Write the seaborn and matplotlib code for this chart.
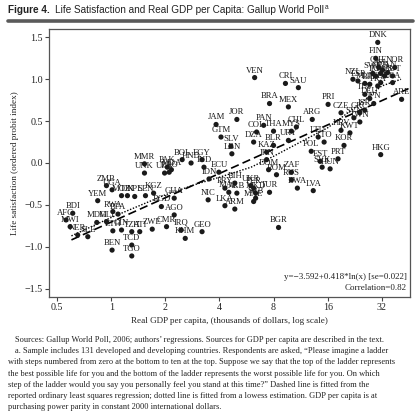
import matplotlib
matplotlib.use("Agg")
import matplotlib.pyplot as plt
import seaborn as sns
import pandas as pd
import numpy as np
from matplotlib.lines import Line2D

# country codes, real GDP per capita (thousands, PPP) and life satisfaction (ordered probit index)
countries = [
    "AFG", "BDI", "MWI", "NER", "SLE", "MDG", "MLI", "RWA", "BFA", "ETH",
    "GIN", "TZA", "HTI", "TCD", "BEN", "TGO", "ZWE", "CMR", "YEM", "ZMB",
    "UGA", "MOZ", "TJK", "NPL", "SEN", "KGZ", "MMR", "UNK", "UZB", "LAO",
    "PAK", "MDA", "BOL", "HND", "EGY", "IND", "ECU", "IDN", "GHA", "AGO",
    "BGD", "GEO", "IRQ", "KHM", "NIC", "LKA", "ARM", "BIH", "PRY", "MAR",
    "ALB", "PER", "MKD", "SRB", "UKR", "MNE", "TUR", "JAM", "JOR", "GTM",
    "SLV", "LBN", "VEN", "BRA", "MEX", "CRI", "SAU", "PAN", "COL", "THA",
    "DZA", "BLR", "KAZ", "IRN", "DOM", "ROM", "ZAF", "RUS", "BWA", "LVA",
    "BGR", "URY", "MYS", "CHL", "ARG", "LTU", "TTO", "POL", "EST", "SVK",
    "HUN", "PRT", "KOR", "HRV", "KWT", "PRI", "CZE", "SVN", "TWN", "HKG",
    "GRC", "ISR", "DEU", "JPN", "ITA", "ARE", "ESP", "MLT", "BEL", "NZL",
    "FRA", "GBR", "USA", "AUT", "IRL", "AUS", "SWE", "CAN", "NLD", "ISL",
    "NOR", "CHE", "FIN", "DNK",
]
gdp = [
    0.56, 0.61, 0.59, 0.65, 0.74, 0.83, 0.94, 1.02, 1.09, 1.02,
    1.14, 1.30, 1.44, 1.30, 1.01, 1.30, 1.69, 2.03, 0.84, 0.94,
    1.01, 1.14, 1.23, 1.35, 1.55, 1.72, 1.53, 1.53, 1.98, 2.10,
    2.05, 2.16, 2.48, 2.78, 3.20, 3.28, 3.97, 3.50, 2.24, 2.24,
    1.90, 3.20, 2.45, 2.58, 3.46, 4.29, 4.87, 4.87, 4.29, 4.51,
    5.00, 6.20, 6.36, 6.36, 5.97, 6.20, 7.60, 3.83, 5.00, 4.08,
    4.63, 4.69, 6.28, 7.60, 9.68, 9.32, 11.0, 7.05, 6.44, 8.00,
    6.20, 8.00, 7.32, 7.32, 7.51, 8.31, 10.06, 10.06, 10.86, 13.31,
    8.53, 9.68, 10.06, 10.72, 13.14, 14.18, 15.30, 12.97, 14.54, 14.92,
    16.52, 18.29, 19.74, 19.0, 21.3, 16.1, 19.0, 22.41, 24.19, 31.6,
    24.19, 25.78, 27.47, 28.9, 25.78, 41.3, 23.59, 25.78, 27.47, 22.13,
    30.42, 31.6, 36.8, 36.8, 29.65, 33.25, 28.54, 34.5, 31.6, 32.4,
    37.8, 30.8, 29.65, 30.42,
]
life_sat = [
    -0.68, -0.60, -0.76, -0.86, -0.88, -0.71, -0.70, -0.58, -0.61, -0.81,
    -0.80, -0.82, -0.82, -0.98, -1.04, -1.11, -0.79, -0.76, -0.45, -0.27,
    -0.32, -0.39, -0.39, -0.40, -0.39, -0.36, -0.01, -0.12, -0.12, -0.11,
    -0.05, -0.08, 0.04, 0.00, 0.04, -0.05, -0.11, -0.19, -0.42, -0.62,
    -0.52, -0.82, -0.80, -0.90, -0.44, -0.51, -0.55, -0.24, -0.30, -0.35,
    -0.36, -0.30, -0.36, -0.42, -0.27, -0.46, -0.35, 0.46, 0.52, 0.31,
    0.20, 0.11, 1.02, 0.71, 0.67, 0.95, 0.90, 0.45, 0.37, 0.38,
    0.25, 0.21, 0.13, 0.04, -0.08, -0.14, -0.11, -0.20, -0.30, -0.33,
    -0.77, 0.27, 0.38, 0.43, 0.52, 0.31, 0.25, 0.14, 0.02, -0.05,
    -0.07, 0.05, 0.21, 0.39, 0.36, 0.70, 0.60, 0.54, 0.49, 0.10,
    0.60, 0.63, 0.77, 0.71, 0.82, 0.76, 0.98, 0.95, 0.94, 1.00,
    0.92, 0.96, 0.96, 1.04, 1.04, 1.04, 1.07, 1.08, 1.07, 1.11,
    1.14, 1.14, 1.25, 1.44,
]

# reported OLS fit: y = a + b*ln(x), x in dollars
ols_a = -3.592
ols_b = 0.418
ols_range = [0.6, 45.0]

# lowess curve
lowess_gdp = [0.6, 1.0, 2.0, 3.0, 4.0, 6.0, 8.0, 12.0, 16.0, 24.0, 32.0, 41.0]
lowess_ls = [-0.87, -0.65, -0.38, -0.25, -0.17, -0.05, 0.08, 0.28, 0.42, 0.70, 0.92, 1.00]

xticks = [0.5, 1, 2, 4, 8, 16, 32]
xtick_labels = ["0.5", "1", "2", "4", "8", "16", "32"]
yticks = [-1.5, -1.0, -0.5, 0.0, 0.5, 1.0, 1.5]

sns.set_style("ticks")
serif = ["Liberation Serif", "DejaVu Serif"]
plt.rcParams["font.family"] = serif

df = pd.DataFrame({"code": countries, "gdp": gdp, "ls": life_sat})
ols_df = pd.DataFrame({"gdp": ols_range})
ols_df["ls"] = ols_a + ols_b * np.log(ols_df["gdp"] * 1000)
low_df = pd.DataFrame({"gdp": lowess_gdp, "ls": lowess_ls})

fig = plt.figure(figsize=(4.2, 4.13), dpi=100)
W, H = 420, 413
ax = fig.add_axes([49 / W, 1 - 297 / H, 361 / W, 268 / H])

sns.lineplot(data=ols_df, x="gdp", y="ls", ax=ax, color="black", lw=1.2,
             linestyle=(0, (5, 2.5)), sort=True, estimator=None)
sns.lineplot(data=low_df, x="gdp", y="ls", ax=ax, color="black", lw=1.0,
             linestyle=(0, (1, 1.2)), sort=True, estimator=None)
sns.scatterplot(data=df, x="gdp", y="ls", ax=ax, color="#1a1a1a", s=14,
                edgecolor="none", zorder=3)

for row in df.itertuples():
    ax.annotate(row.code, (row.gdp, row.ls), xytext=(0, 2.2),
                textcoords="offset points", ha="center", va="bottom",
                fontsize=6.2, color="#1a1a1a")

ax.set_xscale("log", base=2)
ax.set_xlim(0.45, 46)
ax.set_ylim(-1.6, 1.6)
ax.set_xticks(xticks)
ax.set_xticklabels(xtick_labels)
ax.minorticks_off()
ax.set_yticks(yticks)
ax.set_yticklabels([f"{v:.1f}".replace("-", "\u2212") for v in yticks])
ax.tick_params(axis="both", labelsize=7.2, length=3, width=0.8, color="#444",
               pad=1.5, labelcolor="#222")
for s in ax.spines.values():
    s.set_visible(True)
    s.set_color("#555")
    s.set_linewidth(0.9)
ax.set_xlabel("Real GDP per capita, (thousands of dollars, log scale)",
              fontsize=6.6, labelpad=3.5, color="#222")
ax.set_ylabel("Life satisfaction (ordered probit index)", fontsize=6.6,
              labelpad=4, color="#222")

ax.text(0.99, 0.075, "y=\u22123.592+0.418*ln(x) [se=0.022]", transform=ax.transAxes,
        ha="right", va="center", fontsize=6.5, color="#222")
ax.text(0.99, 0.032, "Correlation=0.82", transform=ax.transAxes,
        ha="right", va="center", fontsize=6.5, color="#222")

# title and rule
sans = ["Liberation Sans Narrow", "Liberation Sans", "DejaVu Sans"]
t1 = fig.text(8 / W, 1 - 10 / H, "Figure 4.", family=sans, fontsize=7.2,
              weight="bold", va="center", ha="left", color="#222")
fig.canvas.draw()
r = fig.canvas.get_renderer()
e1 = t1.get_window_extent(r)
t2 = fig.text((e1.x1 + 5) / W, 1 - 10 / H,
              "Life Satisfaction and Real GDP per Capita: Gallup World Poll",
              family=sans, fontsize=7.2, va="center", ha="left", color="#222")
fig.canvas.draw()
e2 = t2.get_window_extent(r)
fig.text((e2.x1 + 1) / W, 1 - 7.5 / H, "a", family=sans, fontsize=4.8,
         va="center", ha="left", color="#222")
fig.add_artist(Line2D([8 / W, 413 / W], [1 - 20.5 / H, 1 - 20.5 / H],
                      lw=2.6, color="#5a5a5a"))

notes = [
    (15, "Sources: Gallup World Poll, 2006; authors\u2019 regressions. Sources for GDP per capita are described in the text."),
    (15, "a. Sample includes 131 developed and developing countries. Respondents are asked, \u201cPlease imagine a ladder"),
    (8, "with steps numbered from zero at the bottom to ten at the top. Suppose we say that the top of the ladder represents"),
    (8, "the best possible life for you and the bottom of the ladder represents the worst possible life for you. On which"),
    (8, "step of the ladder would you say you personally feel you stand at this time?\u201d Dashed line is fitted from the"),
    (8, "reported ordinary least squares regression; dotted line is fitted from a lowess estimation. GDP per capita is at"),
    (8, "purchasing power parity in constant 2000 international dollars."),
]
y0 = 340
for i, (x, line) in enumerate(notes):
    fig.text(x / W, 1 - (y0 + i * 11.2) / H, line, fontsize=6.0, ha="left",
             va="center", color="#222")

fig.savefig("out.png", dpi=100)
